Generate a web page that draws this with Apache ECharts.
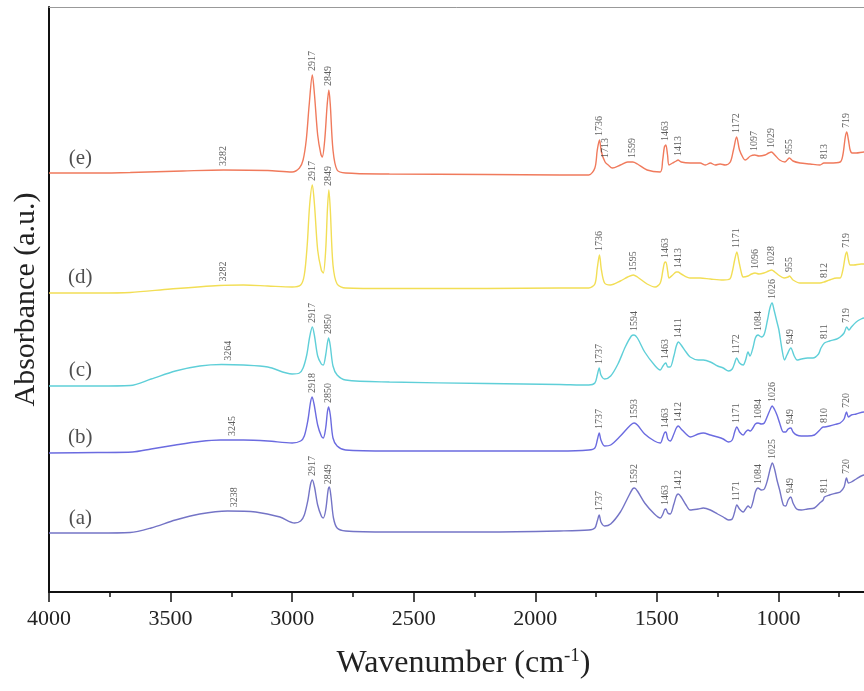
<!DOCTYPE html>
<html lang="en">
<head>
    <meta charset="UTF-8">
    <title>FTIR spectra</title>
    <style>
        html, body { margin: 0; padding: 0; background: #fff; }
        #main { width: 864px; height: 691px; }
    </style>
</head>
<body>
<div id="main"></div>
<script src="https://cdn.jsdelivr.net/npm/echarts@6/dist/echarts.min.js"></script>
<script>
    // spectra: [wavenumber (cm-1), absorbance (a.u., stacked)]
    var specA = [[4000,0.59],[3800,0.59],[3666,0.595],[3580,0.64],[3480,0.72],[3380,0.78],[3266,0.81],[3150,0.80],[3050,0.75],[2990,0.69],[2965,0.71],[2950,0.77],[2935,0.92],[2925,1.07],[2917,1.12],[2908,1.05],[2895,0.87],[2880,0.76],[2872,0.74],[2862,0.82],[2852,1.02],[2847,1.05],[2840,0.95],[2830,0.74],[2815,0.64],[2780,0.61],[2600,0.60],[2200,0.60],[1900,0.61],[1780,0.62],[1755,0.64],[1745,0.71],[1737,0.77],[1730,0.70],[1715,0.66],[1690,0.68],[1650,0.80],[1620,0.94],[1600,1.03],[1592,1.04],[1580,1.01],[1550,0.89],[1510,0.78],[1486,0.74],[1475,0.78],[1469,0.82],[1463,0.83],[1455,0.79],[1445,0.78],[1430,0.88],[1420,0.96],[1412,0.98],[1400,0.95],[1380,0.87],[1363,0.82],[1330,0.83],[1309,0.84],[1280,0.82],[1250,0.78],[1227,0.75],[1205,0.72],[1190,0.73],[1180,0.80],[1171,0.87],[1160,0.83],[1145,0.80],[1135,0.83],[1125,0.86],[1115,0.84],[1105,0.90],[1095,1.00],[1084,1.04],[1070,1.02],[1058,1.03],[1045,1.12],[1033,1.24],[1025,1.29],[1015,1.22],[1006,1.12],[995,1.02],[980,0.87],[970,0.86],[960,0.92],[949,0.95],[940,0.89],[925,0.83],[906,0.82],[880,0.83],[852,0.84],[830,0.89],[816,0.92],[811,0.95],[790,0.97],[760,0.99],[746,1.00],[730,1.05],[720,1.14],[712,1.09],[700,1.10],[680,1.13],[648,1.17],[640,1.17]];
    var specB = [[4000,1.39],[3800,1.395],[3657,1.40],[3580,1.43],[3480,1.47],[3380,1.505],[3295,1.52],[3200,1.52],[3100,1.51],[3000,1.49],[2965,1.51],[2950,1.56],[2935,1.72],[2925,1.89],[2918,1.95],[2910,1.88],[2895,1.67],[2880,1.56],[2872,1.54],[2862,1.64],[2855,1.80],[2850,1.85],[2843,1.77],[2832,1.54],[2815,1.46],[2780,1.42],[2600,1.41],[2200,1.41],[1900,1.41],[1780,1.42],[1755,1.44],[1745,1.52],[1737,1.59],[1730,1.52],[1715,1.46],[1690,1.47],[1650,1.56],[1620,1.64],[1600,1.685],[1593,1.69],[1580,1.67],[1550,1.58],[1510,1.51],[1486,1.49],[1475,1.55],[1469,1.59],[1463,1.60],[1455,1.53],[1445,1.51],[1430,1.58],[1420,1.64],[1412,1.66],[1400,1.63],[1380,1.58],[1363,1.55],[1330,1.58],[1309,1.59],[1280,1.57],[1250,1.55],[1227,1.53],[1205,1.50],[1190,1.52],[1180,1.60],[1171,1.65],[1160,1.60],[1145,1.57],[1135,1.60],[1125,1.62],[1115,1.61],[1105,1.64],[1095,1.68],[1084,1.69],[1070,1.68],[1058,1.69],[1045,1.76],[1033,1.83],[1026,1.86],[1015,1.82],[1006,1.77],[995,1.69],[980,1.60],[970,1.60],[960,1.63],[949,1.64],[940,1.60],[925,1.57],[906,1.56],[880,1.56],[852,1.57],[830,1.62],[816,1.65],[810,1.65],[790,1.66],[760,1.68],[746,1.69],[730,1.73],[720,1.80],[712,1.75],[700,1.77],[680,1.78],[648,1.80],[640,1.80]];
    var specC = [[4000,2.06],[3800,2.06],[3666,2.065],[3580,2.13],[3480,2.21],[3380,2.26],[3290,2.275],[3200,2.27],[3100,2.25],[3000,2.18],[2970,2.19],[2955,2.24],[2940,2.37],[2928,2.55],[2917,2.65],[2908,2.56],[2895,2.36],[2880,2.28],[2872,2.27],[2862,2.37],[2855,2.49],[2850,2.54],[2843,2.46],[2832,2.26],[2815,2.17],[2780,2.12],[2600,2.10],[2200,2.085],[1900,2.075],[1780,2.07],[1755,2.09],[1745,2.17],[1737,2.24],[1730,2.17],[1715,2.13],[1690,2.16],[1660,2.28],[1630,2.45],[1605,2.56],[1594,2.57],[1580,2.54],[1550,2.40],[1510,2.27],[1486,2.22],[1475,2.26],[1469,2.28],[1463,2.29],[1455,2.25],[1445,2.25],[1430,2.36],[1420,2.46],[1411,2.50],[1400,2.47],[1380,2.40],[1363,2.35],[1330,2.32],[1309,2.32],[1280,2.30],[1250,2.26],[1227,2.24],[1205,2.21],[1190,2.23],[1180,2.29],[1172,2.34],[1160,2.29],[1145,2.27],[1135,2.32],[1125,2.40],[1117,2.36],[1105,2.44],[1095,2.54],[1084,2.57],[1070,2.55],[1058,2.58],[1045,2.72],[1035,2.84],[1026,2.89],[1018,2.82],[1006,2.70],[998,2.62],[985,2.42],[975,2.32],[965,2.37],[949,2.44],[935,2.36],[923,2.32],[906,2.33],[880,2.34],[858,2.34],[835,2.38],[825,2.44],[811,2.49],[790,2.51],[760,2.53],[746,2.55],[730,2.59],[719,2.65],[710,2.62],[700,2.65],[680,2.70],[660,2.73],[648,2.74],[640,2.74]];
    var specD = [[4000,2.99],[3800,2.99],[3666,2.995],[3500,3.03],[3300,3.065],[3200,3.07],[3100,3.06],[3000,3.05],[2965,3.07],[2950,3.17],[2938,3.47],[2928,3.87],[2917,4.07],[2908,3.87],[2895,3.42],[2880,3.22],[2872,3.19],[2862,3.42],[2855,3.82],[2849,4.02],[2843,3.82],[2832,3.27],[2815,3.08],[2780,3.04],[2600,3.035],[2200,3.035],[1900,3.04],[1780,3.04],[1755,3.08],[1745,3.24],[1736,3.37],[1728,3.22],[1715,3.09],[1691,3.07],[1650,3.11],[1620,3.15],[1597,3.17],[1580,3.15],[1540,3.08],[1507,3.05],[1486,3.09],[1475,3.22],[1469,3.29],[1463,3.30],[1455,3.20],[1450,3.14],[1435,3.17],[1420,3.20],[1413,3.20],[1400,3.18],[1363,3.14],[1322,3.14],[1280,3.13],[1227,3.12],[1200,3.13],[1190,3.20],[1180,3.32],[1171,3.40],[1162,3.30],[1150,3.17],[1145,3.15],[1125,3.16],[1110,3.18],[1096,3.19],[1080,3.18],[1060,3.19],[1040,3.21],[1028,3.22],[1015,3.20],[1000,3.17],[977,3.14],[960,3.15],[955,3.16],[940,3.12],[911,3.09],[870,3.09],[829,3.09],[812,3.10],[790,3.12],[760,3.14],[746,3.14],[735,3.22],[725,3.36],[719,3.40],[712,3.32],[705,3.27],[690,3.27],[660,3.28],[648,3.28],[640,3.28]];
    var specE = [[4000,4.19],[3800,4.19],[3666,4.195],[3450,4.21],[3282,4.22],[3100,4.215],[3000,4.20],[2970,4.24],[2955,4.32],[2942,4.52],[2930,4.87],[2917,5.17],[2908,4.97],[2895,4.57],[2882,4.38],[2876,4.35],[2866,4.52],[2856,4.87],[2849,5.02],[2843,4.87],[2832,4.42],[2815,4.22],[2780,4.19],[2600,4.18],[2200,4.175],[1900,4.17],[1780,4.17],[1755,4.24],[1745,4.42],[1736,4.52],[1728,4.40],[1713,4.30],[1700,4.27],[1683,4.24],[1650,4.27],[1620,4.30],[1599,4.30],[1580,4.28],[1540,4.22],[1486,4.20],[1476,4.32],[1469,4.45],[1463,4.47],[1456,4.37],[1450,4.27],[1435,4.29],[1420,4.31],[1413,4.32],[1400,4.30],[1363,4.29],[1322,4.29],[1300,4.27],[1280,4.29],[1260,4.27],[1240,4.28],[1219,4.27],[1198,4.30],[1185,4.42],[1172,4.55],[1160,4.42],[1145,4.34],[1137,4.32],[1115,4.36],[1097,4.37],[1080,4.36],[1055,4.37],[1040,4.39],[1029,4.40],[1015,4.37],[995,4.32],[973,4.30],[955,4.34],[940,4.31],[911,4.29],[870,4.28],[829,4.27],[813,4.29],[790,4.29],[746,4.30],[735,4.37],[725,4.55],[719,4.60],[712,4.52],[705,4.42],[697,4.39],[680,4.39],[648,4.40],[640,4.40]];

    // labelled peak positions for each spectrum
    var peaksA = [3238, 2917, 2849, 1737, 1592, 1463, 1412, 1171, 1084, 1025, 949, 811, 720];
    var peaksB = [3245, 2918, 2850, 1737, 1593, 1463, 1412, 1171, 1084, 1026, 949, 810, 720];
    var peaksC = [3264, 2917, 2850, 1737, 1594, 1463, 1411, 1172, 1084, 1026, 949, 811, 719];
    var peaksD = [3282, 2917, 2849, 1736, 1595, 1463, 1413, 1171, 1096, 1028, 955, 812, 719];
    var peaksE = [3282, 2917, 2849, 1736, 1713, 1599, 1463, 1413, 1172, 1097, 1029, 955, 813, 719];

    var sampleNames = ['(a)', '(b)', '(c)', '(d)', '(e)'];
    var sampleColors = ['#7474C6', '#6B6BE0', '#5FCFD8', '#F2DE55', '#F07A5C'];
    // where the sample tags sit, in data units
    var tagAnchors = [[3871, 0.74], [3871, 1.55], [3871, 2.22], [3871, 3.15], [3871, 4.34]];

    var spectra = [specA, specB, specC, specD, specE];
    var peaks = [peaksA, peaksB, peaksC, peaksD, peaksE];

    var serif = "'Liberation Serif', 'DejaVu Serif', serif";

    // absorbance of a spectrum at a wavenumber (linear between read points)
    var valueAt = function (spec, w) {
        for (var i = 0; i < spec.length - 1; i++) {
            var a = spec[i], b = spec[i + 1];
            if (w <= a[0] && w >= b[0]) {
                return a[1] + (b[1] - a[1]) * (a[0] - w) / (a[0] - b[0]);
            }
        }
        return spec[spec.length - 1][1];
    };

    var series = [];
    spectra.forEach(function (spec, i) {
        series.push({
            name: sampleNames[i],
            type: 'line',
            data: spec,
            showSymbol: false,
            smooth: 0.3,
            lineStyle: {color: sampleColors[i], width: 1.4},
            itemStyle: {color: sampleColors[i]},
            z: 2
        });
        series.push({
            type: 'scatter',
            silent: true,
            symbolSize: 0,
            data: peaks[i].map(function (p) {
                return [p, valueAt(spec, p)];
            }),
            label: {
                show: true,
                position: 'top',
                distance: 4,
                rotate: 90,
                align: 'left',
                verticalAlign: 'middle',
                fontFamily: serif,
                fontSize: 10,
                color: '#333',
                formatter: function (p) {
                    return p.value[0];
                }
            },
            z: 3
        });
    });
    series.push({
        type: 'scatter',
        silent: true,
        symbolSize: 0,
        data: tagAnchors.map(function (c, i) {
            return [c[0], c[1], sampleNames[i]];
        }),
        label: {
            show: true,
            position: 'inside',
            fontFamily: serif,
            fontSize: 21,
            color: '#222',
            formatter: function (p) {
                return p.value[2];
            }
        }
    });

    var option = {
        animation: false,
        backgroundColor: '#fff',
        // the axis runs on to 500 cm-1, past the right edge of the page
        grid: {left: 49, top: 7, right: -36, bottom: 99, outerBoundsMode: 'none', containLabel: false},
        xAxis: [
            {
                type: 'value',
                inverse: true,
                min: 500,
                max: 4000,
                interval: 500,
                name: 'Wavenumber (cm{sup|-1})',
                nameLocation: 'middle',
                nameGap: 55,
                nameTextStyle: {
                    fontFamily: serif,
                    fontSize: 32,
                    color: '#222',
                    padding: [0, 22, 0, 0],
                    rich: {
                        sup: {fontFamily: serif, fontSize: 19, color: '#222', padding: [0, 0, 15, 0]}
                    }
                },
                axisLine: {show: true, lineStyle: {color: '#111', width: 2}},
                axisTick: {show: true, inside: false, length: 10, lineStyle: {color: '#111', width: 1.5}},
                minorTick: {show: true, splitNumber: 2, length: 5, lineStyle: {color: '#111', width: 1.5}},
                axisLabel: {
                    fontFamily: serif,
                    fontSize: 22,
                    color: '#222',
                    margin: 16,
                    formatter: function (v) {
                        return String(v);
                    }
                },
                splitLine: {show: false}
            },
            {
                type: 'value',
                position: 'top',
                inverse: true,
                min: 500,
                max: 4000,
                axisLine: {show: true, lineStyle: {color: '#999', width: 1}},
                axisTick: {show: false},
                axisLabel: {show: false},
                splitLine: {show: false}
            }
        ],
        yAxis: {
            type: 'value',
            min: 0,
            max: 5.85,
            name: 'Absorbance (a.u.)',
            nameLocation: 'middle',
            nameGap: 8,
            nameTextStyle: {fontFamily: serif, fontSize: 30, color: '#222'},
            axisLine: {show: true, lineStyle: {color: '#111', width: 2}},
            axisTick: {show: false},
            axisLabel: {show: false},
            splitLine: {show: false}
        },
        series: series
    };

    var myChart = echarts.init(document.getElementById('main'));
    myChart.setOption(option);
</script>
</body>
</html>
